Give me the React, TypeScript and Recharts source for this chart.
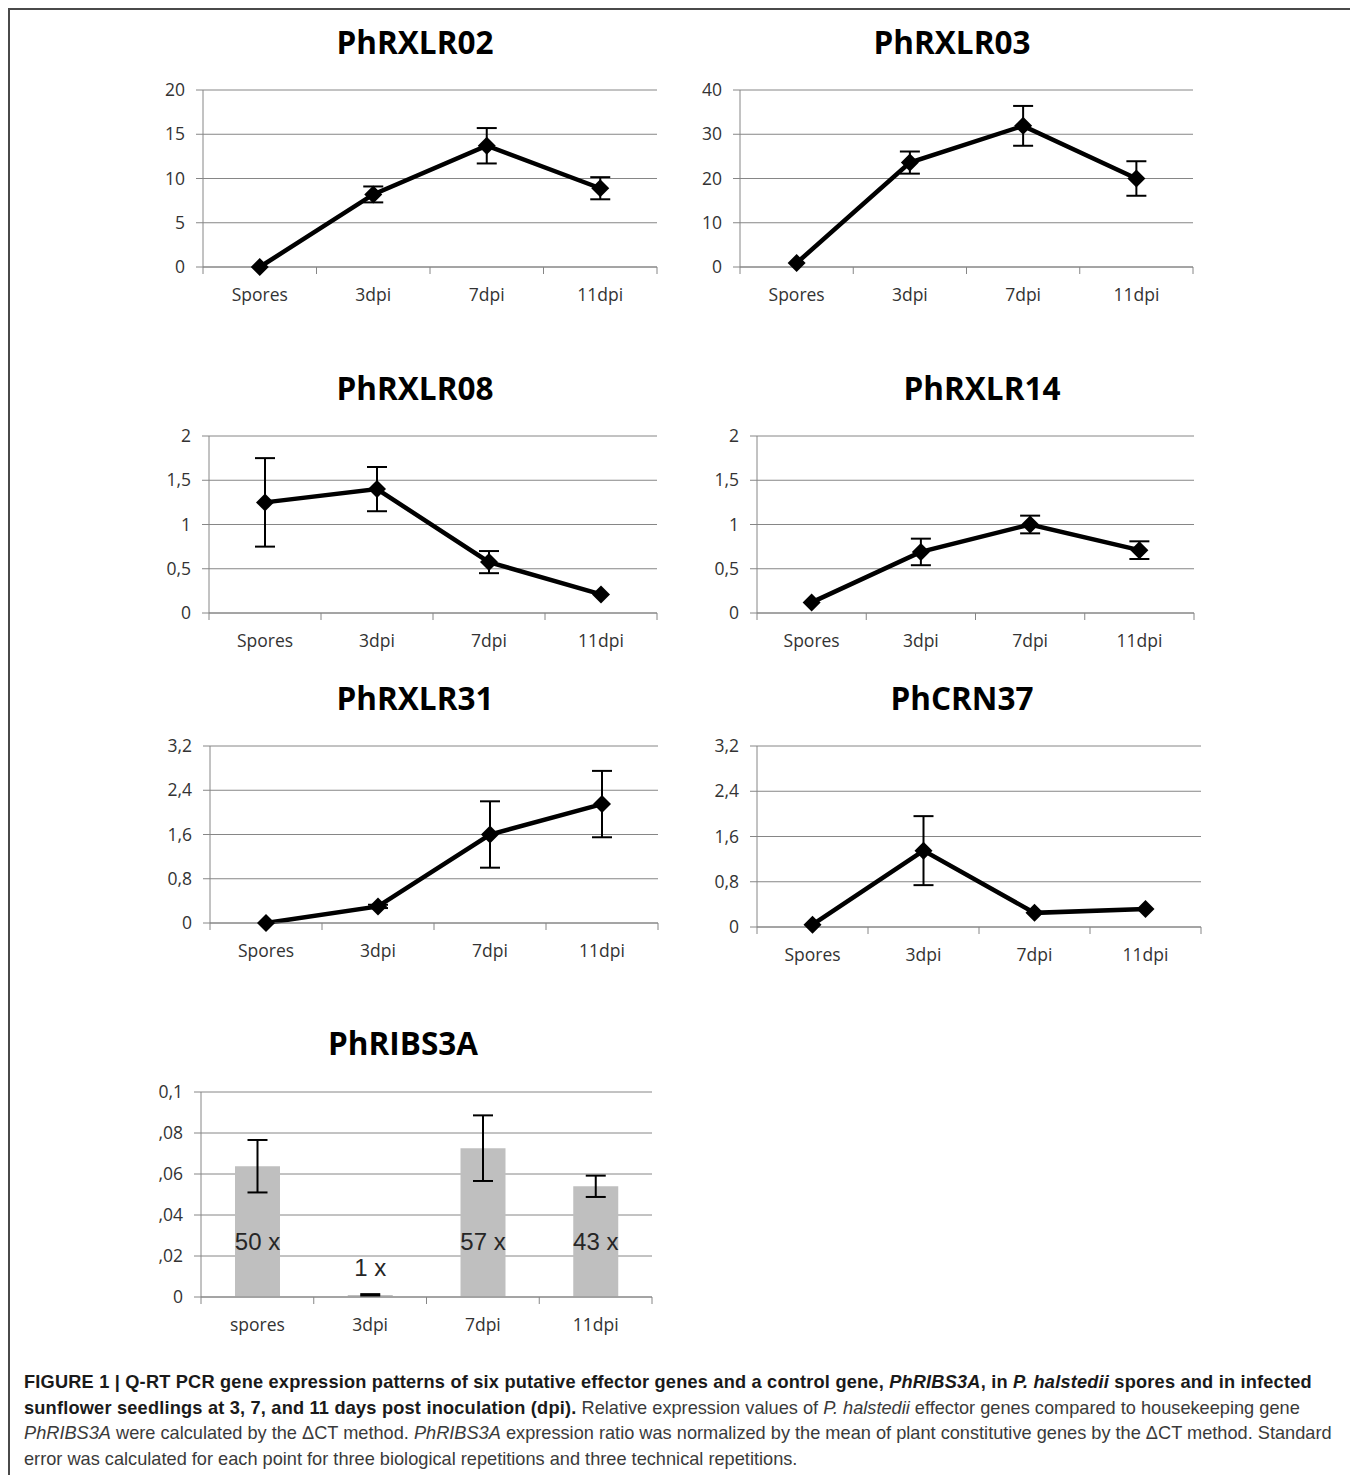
import React from 'react';
import { LineChart, Line, BarChart, Bar, XAxis, YAxis, CartesianGrid, ErrorBar, LabelList } from 'recharts';

// categories on the x axis
const categories = ['Spores', '3dpi', '7dpi', '11dpi'];
const ribsCategories = ['spores', '3dpi', '7dpi', '11dpi'];

// relative expression (mean) and standard error
const rxlr02Values = [0, 8.2, 13.7, 8.9];
const rxlr02Errors = [0, 0.9, 2.0, 1.25];
const rxlr03Values = [0.9, 23.6, 31.9, 20.0];
const rxlr03Errors = [0, 2.5, 4.5, 3.9];
const rxlr08Values = [1.25, 1.4, 0.575, 0.21];
const rxlr08Errors = [0.5, 0.25, 0.125, 0];
const rxlr14Values = [0.12, 0.69, 1.0, 0.71];
const rxlr14Errors = [0, 0.15, 0.1, 0.1];
const rxlr31Values = [0, 0.3, 1.6, 2.15];
const rxlr31Errors = [0, 0.03, 0.6, 0.6];
const crn37Values = [0.04, 1.35, 0.25, 0.32];
const crn37Errors = [0, 0.61, 0, 0];
const ribs3aValues = [0.0638, 0.001, 0.0726, 0.054];
const ribs3aErrors = [0.0128, 0.0004, 0.016, 0.0052];
const ribs3aLabels = ['50 x', '1 x', '57 x', '43 x'];

// y axis ticks and their printed labels
const ticks20 = [0, 5, 10, 15, 20];
const ticks20Labels = ['0', '5', '10', '15', '20'];
const ticks40 = [0, 10, 20, 30, 40];
const ticks40Labels = ['0', '10', '20', '30', '40'];
const ticks2 = [0, 0.5, 1, 1.5, 2];
const ticks2Labels = ['0', '0,5', '1', '1,5', '2'];
const ticks32 = [0, 0.8, 1.6, 2.4, 3.2];
const ticks32Labels = ['0', '0,8', '1,6', '2,4', '3,2'];
const ribsTicks = [0, 0.02, 0.04, 0.06, 0.08, 0.1];
const ribsTickLabels = ['0', ',02', ',04', ',06', ',08', '0,1'];

const GRID = '#868686';
const TEXT = '#333';
const TICK_FONT = '"Open Sans", sans-serif';
const TICK_SIZE = 17.5;
const Y_W = 60;
const X_H = 50;
const M_TOP = 16;
const M_RIGHT = 15;
const OFF = 8; // body margin

const toRows = (names: string[], values: number[], errors: number[]) =>
  names.map((name, i) => ({ name, value: values[i], err: errors[i] }));

// page positions of each plot area (left, right, top, bottom) and title centre
const linePanels = [
  { title: 'PhRXLR02', tx: 415, ty: 42, L: 203, R: 657, T: 90, B: 267, values: rxlr02Values, errors: rxlr02Errors, ticks: ticks20, labels: ticks20Labels },
  { title: 'PhRXLR03', tx: 952, ty: 42, L: 740, R: 1193, T: 90, B: 267, values: rxlr03Values, errors: rxlr03Errors, ticks: ticks40, labels: ticks40Labels },
  { title: 'PhRXLR08', tx: 415, ty: 388, L: 209, R: 657, T: 436, B: 613, values: rxlr08Values, errors: rxlr08Errors, ticks: ticks2, labels: ticks2Labels },
  { title: 'PhRXLR14', tx: 982, ty: 388, L: 757, R: 1194, T: 436, B: 613, values: rxlr14Values, errors: rxlr14Errors, ticks: ticks2, labels: ticks2Labels },
  { title: 'PhRXLR31', tx: 415, ty: 698, L: 210, R: 658, T: 746, B: 923, values: rxlr31Values, errors: rxlr31Errors, ticks: ticks32, labels: ticks32Labels },
  { title: 'PhCRN37', tx: 962, ty: 698, L: 757, R: 1201, T: 746, B: 927, values: crn37Values, errors: crn37Errors, ticks: ticks32, labels: ticks32Labels },
];
const barPanel = { title: 'PhRIBS3A', tx: 403, ty: 1043, L: 201, R: 652, T: 1092, B: 1297 };

const XTick = (props: any) => {
  const { x, y, payload, index, band, count } = props;
  const half = band / 2;
  return (
    <g>
      <line x1={x - half} y1={y} x2={x - half} y2={y + 7} stroke={GRID} />
      {index === count - 1 && <line x1={x + half} y1={y} x2={x + half} y2={y + 7} stroke={GRID} />}
      <text x={x} y={y + 34} textAnchor="middle" fill={TEXT} fontSize={TICK_SIZE} fontFamily={TICK_FONT}>
        {payload.value}
      </text>
    </g>
  );
};

const Diamond = (props: any) => {
  const { cx, cy } = props;
  if (cx == null || cy == null) return null;
  const s = 9;
  return <path d={`M${cx},${cy - s}L${cx + s},${cy}L${cx},${cy + s}L${cx - s},${cy}Z`} fill="#000" />;
};

const Title = ({ text, x, y }: { text: string; x: number; y: number }) => (
  <div
    style={{
      position: 'absolute',
      left: x - OFF - 250,
      top: y - OFF - 22,
      width: 500,
      height: 44,
      lineHeight: '44px',
      textAlign: 'center',
      fontFamily: TICK_FONT,
      fontWeight: 700,
      fontSize: 31.5,
      color: '#000',
    }}
  >
    {text}
  </div>
);

const yAxisProps = (ticks: number[], labels: string[]) => ({
  ticks,
  domain: [0, ticks[ticks.length - 1]] as [number, number],
  interval: 0 as const,
  width: Y_W,
  tickSize: 7,
  tickMargin: 11,
  axisLine: { stroke: GRID },
  tickLine: { stroke: GRID },
  tick: { fill: TEXT, fontSize: TICK_SIZE, fontFamily: TICK_FONT },
  tickFormatter: (v: number) => labels[ticks.indexOf(v)] ?? String(v),
});

const LinePanel = ({ p }: { p: (typeof linePanels)[number] }) => {
  const w = p.R - p.L + Y_W + M_RIGHT;
  const h = p.B - p.T + M_TOP + X_H;
  const band = (p.R - p.L) / categories.length;
  const data = toRows(categories, p.values, p.errors);
  return (
    <>
      <Title text={p.title} x={p.tx} y={p.ty} />
      <div style={{ position: 'absolute', left: p.L - OFF - Y_W, top: p.T - OFF - M_TOP }}>
        <LineChart width={w} height={h} data={data} margin={{ top: M_TOP, right: M_RIGHT, bottom: 0, left: 0 }}>
          <CartesianGrid vertical={false} stroke={GRID} />
          <XAxis
            dataKey="name"
            scale="band"
            height={X_H}
            interval={0}
            tickSize={0}
            tickMargin={0}
            tickLine={false}
            axisLine={{ stroke: GRID }}
            tick={(tp: any) => <XTick {...tp} band={band} count={categories.length} />}
          />
          <YAxis {...yAxisProps(p.ticks, p.labels)} />
          <Line
            type="linear"
            dataKey="value"
            stroke="#000"
            strokeWidth={4.5}
            dot={(dp: any) => <Diamond key={`dm-${dp.index}`} {...dp} />}
            activeDot={false}
            isAnimationActive={false}
          >
            <ErrorBar dataKey="err" width={10} stroke="#000" strokeWidth={2} direction="y" />
          </Line>
        </LineChart>
      </div>
    </>
  );
};

const BarValueLabel = (props: any) => {
  const { x, y, width, height, value } = props;
  const cx = x + width / 2;
  const ty = height > 40 ? y + height - 47 : y - 19;
  return (
    <text x={cx} y={ty} textAnchor="middle" fill="#262626" fontSize={24} fontFamily='"Liberation Sans", Arial, sans-serif'>
      {value}
    </text>
  );
};

const BarPanel = () => {
  const p = barPanel;
  const w = p.R - p.L + Y_W + M_RIGHT;
  const h = p.B - p.T + M_TOP + X_H;
  const band = (p.R - p.L) / ribsCategories.length;
  const data = ribsCategories.map((name, i) => ({
    name,
    value: ribs3aValues[i],
    err: ribs3aErrors[i],
    label: ribs3aLabels[i],
  }));
  return (
    <>
      <Title text={p.title} x={p.tx} y={p.ty} />
      <div style={{ position: 'absolute', left: p.L - OFF - Y_W, top: p.T - OFF - M_TOP }}>
        <BarChart width={w} height={h} data={data} margin={{ top: M_TOP, right: M_RIGHT, bottom: 0, left: 0 }}>
          <CartesianGrid vertical={false} stroke={GRID} />
          <XAxis
            dataKey="name"
            height={X_H}
            interval={0}
            tickSize={0}
            tickMargin={0}
            tickLine={false}
            axisLine={{ stroke: GRID }}
            tick={(tp: any) => <XTick {...tp} band={band} count={ribsCategories.length} />}
          />
          <YAxis {...yAxisProps(ribsTicks, ribsTickLabels)} />
          <Bar dataKey="value" fill="#bfbfbf" barSize={45} isAnimationActive={false}>
            <ErrorBar dataKey="err" width={10} stroke="#000" strokeWidth={2} direction="y" />
            <LabelList dataKey="label" content={BarValueLabel} />
          </Bar>
        </BarChart>
      </div>
    </>
  );
};

const capBold: React.CSSProperties = { fontWeight: 700, color: '#1a1a1a', letterSpacing: '0.2px' };

const Caption = () => (
  <div
    style={{
      position: 'absolute',
      left: 24 - OFF,
      top: 1370 - OFF,
      fontFamily: '"Liberation Sans", Arial, sans-serif',
      fontSize: 18.2,
      lineHeight: '25.5px',
      color: '#3a3a3a',
      whiteSpace: 'nowrap',
    }}
  >
    <span style={capBold}>
      FIGURE 1 | Q-RT PCR gene expression patterns of six putative effector genes and a control gene, <i>PhRIBS3A</i>, in{' '}
      <i>P. halstedii</i> spores and in infected
    </span>
    <br />
    <span style={capBold}>sunflower seedlings at 3, 7, and 11 days post inoculation (dpi).</span> Relative expression values of{' '}
    <i>P. halstedii</i> effector genes compared to housekeeping gene
    <br />
    <i>PhRIBS3A</i> were calculated by the ΔCT method. <i>PhRIBS3A</i> expression ratio was normalized by the mean of plant
    constitutive genes by the ΔCT method. Standard
    <br />
    error was calculated for each point for three biological repetitions and three technical repetitions.
  </div>
);

export default function App() {
  return (
    <div style={{ position: 'relative', width: 1345, height: 1467, background: '#fff' }}>
      <div
        style={{
          position: 'absolute',
          left: 0,
          top: 0,
          width: 1345,
          height: 1480,
          boxSizing: 'border-box',
          borderTop: '2px solid #4a4a4a',
          borderLeft: '2px solid #4a4a4a',
          borderRight: '2px solid #4a4a4a',
        }}
      />
      {linePanels.map((p) => (
        <LinePanel key={p.title} p={p} />
      ))}
      <BarPanel />
      <Caption />
    </div>
  );
}
